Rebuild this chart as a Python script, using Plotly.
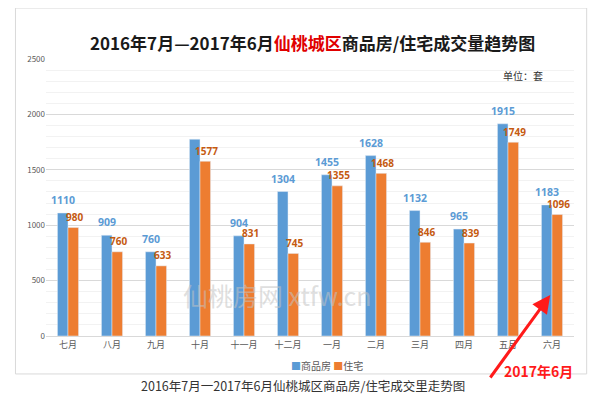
import plotly.graph_objects as go

months = ["七月", "八月", "九月", "十月", "十一月", "十二月", "一月", "二月", "三月", "四月", "五月", "六月"]
commercial = [1110, 909, 760, 1776, 904, 1304, 1455, 1628, 1132, 965, 1915, 1183]
residential = [980, 760, 633, 1577, 831, 745, 1355, 1468, 846, 839, 1749, 1096]
commercial_labels = ["1110", "909", "760", "", "904", "1304", "1455", "1628", "1132", "965", "1915", "1183"]
residential_labels = [str(v) for v in residential]

FONT = "Noto Sans CJK SC"
NUMFONT = "Noto Sans"
BLUE = "#5b9bd5"
ORANGE = "#ed7d31"
BLUE_TXT = "#5b9bd5"
ORANGE_TXT = "#c55a11"

fig = go.Figure()
fig.add_trace(go.Bar(x=months, y=commercial, name="商品房", marker_color=BLUE))
fig.add_trace(go.Bar(x=months, y=residential, name="住宅", marker_color=ORANGE))

fig.update_layout(
    width=592, height=391,
    margin=dict(l=37.5, r=26, t=51, b=63, autoexpand=False),
    paper_bgcolor="white", plot_bgcolor="white",
    barmode="group", bargap=0.52, bargroupgap=0,
    font=dict(family=FONT, color="#595959"),
    showlegend=False,
    xaxis=dict(showgrid=False, showline=True, linecolor="#d9d9d9", ticks="",
               tickfont=dict(size=9, color="#595959")),
    yaxis=dict(range=[0, 2500], dtick=500, showgrid=True, gridcolor="#d9d9d9",
               zeroline=False, tickfont=dict(size=8, color="#595959"),
               minor=dict(dtick=100, showgrid=True, gridcolor="#f2f2f2")),
    shapes=[dict(type="rect", xref="paper", yref="paper", x0=-0.0578, x1=1.024,
                 y0=-0.137, y1=1.184, line=dict(color="#d9d9d9", width=1), layer="below")],
)

# data labels
for m, v, t in zip(months, commercial, commercial_labels):
    if t:
        fig.add_annotation(x=m, y=v, xref="x", yref="y", text="<b>" + t + "</b>", showarrow=False,
                           xshift=-5.3, yshift=13, xanchor="center", yanchor="middle",
                           font=dict(size=10.5, color=BLUE_TXT, family=NUMFONT))
for m, v, t in zip(months, residential, residential_labels):
    fig.add_annotation(x=m, y=v, xref="x", yref="y", text="<b>" + t + "</b>", showarrow=False,
                       xshift=6, yshift=10.5, xanchor="center", yanchor="middle",
                       font=dict(size=10, color=ORANGE_TXT, family=NUMFONT))

def paper_text(x, y, text, size, color, **kw):
    fig.add_annotation(xref="paper", yref="paper", x=x, y=y, showarrow=False,
                       xanchor="center", yanchor="middle", text=text,
                       font=dict(size=size, color=color, family=FONT), **kw)

# legend (drawn as text with coloured squares)
paper_text(0.533, -0.105,
           "<span style='color:%s'>■</span>商品房 <span style='color:%s'>■</span>住宅" % (BLUE, ORANGE),
           10, "#595959")
paper_text(0.504, 1.058,
           "<b>2016年7月—2017年6月<span style='color:#e00000'>仙桃城区</span>商品房/住宅成交量趋势图</b>",
           17, "#1a1a1a")
paper_text(0.904, 0.939, "单位：套", 10, "#333333")
paper_text(0.4366, 0.148, "仙桃房网 xtfw.cn", 25, "rgba(195,195,195,0.55)")
paper_text(0.486, -0.18, "2016年7月一2017年6月仙桃城区商品房/住宅成交里走势图", 12.5, "#333333")

fig.add_annotation(xref="paper", yref="paper", x=0.955, y=0.148, ax=-61, ay=84,
                   showarrow=True, arrowhead=2, arrowsize=1.2, arrowwidth=3, arrowcolor="#ff1a1a",
                   text="")
paper_text(0.933, -0.126, "<b>2017年6月</b>", 14, "#ff1a1a")

fig.write_html("out.html")
